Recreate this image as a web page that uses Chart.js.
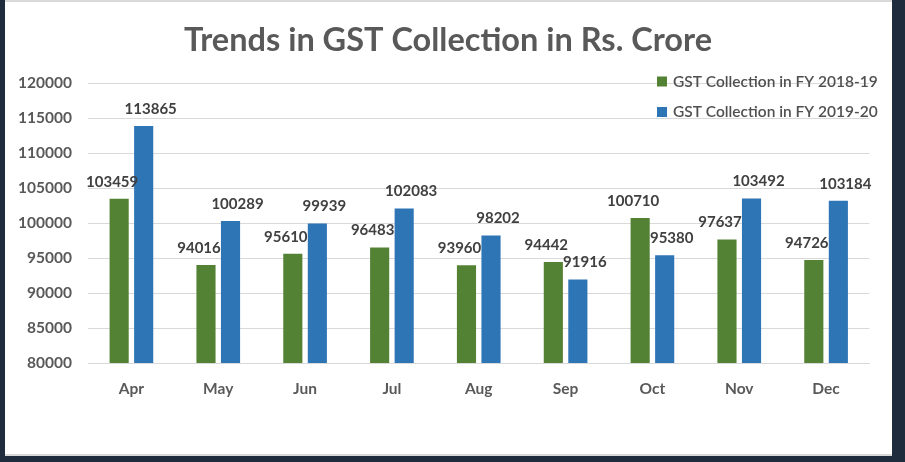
<!DOCTYPE html>
<html>
<head>
<meta charset="utf-8">
<script src="https://cdn.jsdelivr.net/npm/chart.js@4/dist/chart.umd.min.js"></script>
<style>
  html, body { margin: 0; padding: 0; background: #1e2c3e; }
  #wrap { position: relative; width: 905px; height: 462px; }
</style>
</head>
<body>
<div id="wrap"><canvas id="c" width="905" height="462"></canvas></div>
<script>
// ---- data ----
const months = ['Apr', 'May', 'Jun', 'Jul', 'Aug', 'Sep', 'Oct', 'Nov', 'Dec'];
const gst2018 = [103459, 94016, 95610, 96483, 93960, 94442, 100710, 97637, 94726];
const gst2019 = [113865, 100289, 99939, 102083, 98202, 91916, 95380, 103492, 103184];
const seriesNames = ['GST Collection in FY 2018-19', 'GST Collection in FY 2019-20'];
const chartTitle = 'Trends in GST Collection in Rs. Crore';
const yMin = 80000, yMax = 120000, yStep = 5000;

const GREEN = '#548235', BLUE = '#2e75b6';
const FONT = 'Lato, "Open Sans", sans-serif';

const framePlugin = {
  id: 'frame',
  beforeDraw(chart) {
    const ctx = chart.ctx;
    ctx.save();
    ctx.fillStyle = '#1e2c3e';
    ctx.fillRect(0, 0, chart.width, chart.height);
    ctx.fillStyle = '#ffffff';
    ctx.fillRect(5, 0, 887, 456);
    ctx.fillStyle = '#d9d9d9';
    ctx.fillRect(5, 0, 887, 2);
    ctx.fillRect(5, 454, 887, 2);
    ctx.restore();
  }
};

const decorPlugin = {
  id: 'decor',
  afterDatasetsDraw(chart) {
    const ctx = chart.ctx;
    ctx.save();
    // title
    ctx.fillStyle = '#595959';
    ctx.font = 'bold 32.5px ' + FONT;
    ctx.textAlign = 'center';
    ctx.textBaseline = 'alphabetic';
    ctx.fillText(chartTitle, 448, 51);

    // data labels
    ctx.font = 'bold 15px ' + FONT;
    ctx.fillStyle = '#404040';
    ctx.textBaseline = 'middle';
    chart.data.datasets.forEach((ds, di) => {
      const meta = chart.getDatasetMeta(di);
      meta.data.forEach((bar, i) => {
        const dx = di === 0 ? -7 : 7;
        ctx.fillText(String(ds.data[i]), bar.x + dx, bar.y - 17);
      });
    });

    // legend
    ctx.font = '600 15.5px ' + FONT;
    ctx.textAlign = 'left';
    chart.data.datasets.forEach((ds, di) => {
      const cy = 81.5 + di * 30.5;
      ctx.fillStyle = ds.backgroundColor;
      ctx.fillRect(657, cy - 5, 10, 10);
      ctx.fillStyle = '#505050';
      ctx.fillText(seriesNames[di], 673, cy);
    });
    ctx.restore();
  }
};

new Chart(document.getElementById('c'), {
  type: 'bar',
  data: {
    labels: months,
    datasets: [
      { label: seriesNames[0], data: gst2018, backgroundColor: GREEN,
        categoryPercentage: 0.565, barPercentage: 0.78 },
      { label: seriesNames[1], data: gst2019, backgroundColor: BLUE,
        categoryPercentage: 0.565, barPercentage: 0.78 }
    ]
  },
  options: {
    responsive: false,
    animation: false,
    layout: { padding: { top: 83, right: 35.5, bottom: 0, left: 0 } },
    plugins: { legend: { display: false }, title: { display: false }, tooltip: { enabled: false } },
    scales: {
      x: {
        grid: { display: false, drawTicks: false },
        border: { display: true, color: '#d9d9d9' },
        ticks: { color: '#595959', font: { family: FONT, size: 15.5, weight: 'bold' }, padding: 17 },
        afterFit(s) { s.height = 99; }
      },
      y: {
        min: yMin, max: yMax,
        grid: { color: '#d9d9d9', drawTicks: false },
        border: { display: false },
        ticks: { stepSize: yStep, color: '#595959', font: { family: FONT, size: 15.5, weight: 'bold' }, padding: 16,
                 callback: (v) => String(v) },
        afterFit(s) { s.width = 88; }
      }
    }
  },
  plugins: [framePlugin, decorPlugin]
});
</script>
</body>
</html>
